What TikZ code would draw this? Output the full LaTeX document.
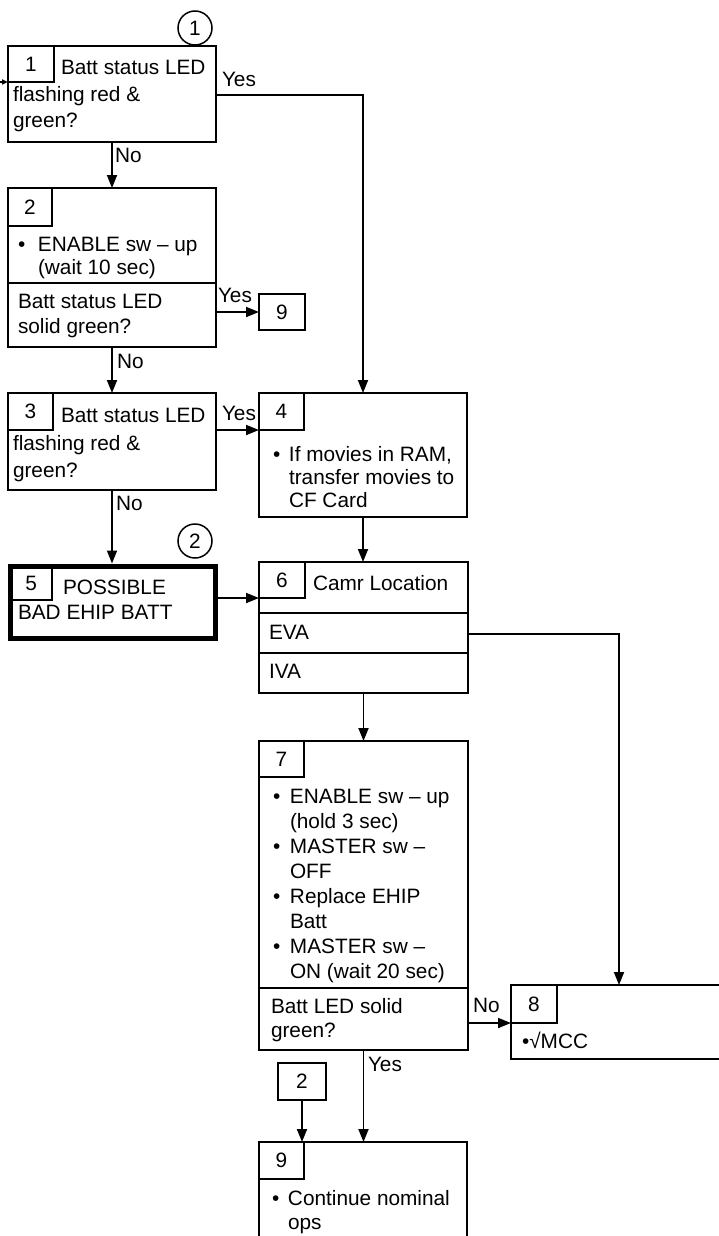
\documentclass[tikz,border=0pt]{standalone}
\usepackage{fontspec}
\setmainfont{Liberation Sans}
\usetikzlibrary{arrows.meta}
\newcommand{\myfs}{\fontsize{20.8}{25}\selectfont}
\newcommand{\bul}[1]{\makebox[#1][l]{\textbullet}}
\begin{document}
\begin{tikzpicture}[x=1pt,y=-1pt,
  box/.style={draw, line width=2.4pt, inner sep=0pt, outer sep=0pt, anchor=north west},
  numbox/.style={draw, line width=1.5pt, inner sep=0pt, outer sep=0pt, anchor=north west, font=\myfs},
  txt/.style={anchor=base west, inner sep=0pt, outer sep=0pt, font=\myfs},
  arr/.style={line width=1.8pt, -{Triangle[length=13pt,width=10pt]}},
  circ/.style={draw, circle, line width=1.5pt, minimum size=34pt, inner sep=0pt, font=\myfs}]
\useasboundingbox (0,0) rectangle (718,1236);

% ---- boxes
\node[box, minimum width=208pt, minimum height=96pt] (b1) at (8,46) {};
\node[box, minimum width=208pt, minimum height=159pt] (b2) at (8,188) {};
\node[box, minimum width=208pt, minimum height=97pt] (b3) at (8,393) {};
\node[box, minimum width=208pt, minimum height=124pt] (b4) at (259,393) {};
\node[box, line width=5pt, outer sep=2.5pt, minimum width=204.5pt, minimum height=72pt] (b5) at (8,563.5) {};
\node[box, minimum width=209pt, minimum height=131pt] (b6) at (259,562) {};
\node[box, minimum width=209pt, minimum height=309pt] (b7) at (259,741) {};
\node[box, minimum width=214pt, minimum height=74pt] (b8) at (511,985) {};
\node[box, minimum width=208pt, minimum height=110pt] (b9) at (259,1142) {};

% ---- dividers
\draw[line width=2.4pt] (b2.west |- 0,283) -- (b2.east |- 0,283);
\draw[line width=2.4pt] (b6.west |- 0,613) -- (b6.east |- 0,613);
\draw[line width=2.4pt] (b6.west |- 0,653) -- (b6.east |- 0,653);
\draw[line width=2.4pt] (b7.west |- 0,988) -- (b7.east |- 0,988);

% ---- number boxes
\node[numbox, minimum width=46pt, minimum height=36pt] (n1) at (b1.north west) {1};
\node[numbox, minimum width=44pt, minimum height=38pt] (n2) at (b2.north west) {2};
\node[numbox, minimum width=45pt, minimum height=37pt] (n3) at (b3.north west) {3};
\node[numbox, minimum width=45pt, minimum height=37pt] (n4) at (b4.north west) {4};
\node[numbox, minimum width=41.5pt, minimum height=34pt] (n5) at (10.5,566) {5};
\node[numbox, minimum width=46pt, minimum height=36pt] (n6) at (b6.north west) {6};
\node[numbox, minimum width=45pt, minimum height=36pt] (n7) at (b7.north west) {7};
\node[numbox, minimum width=46pt, minimum height=38pt] (n8) at (b8.north west) {8};
\node[numbox, minimum width=45pt, minimum height=37pt] (n9) at (b9.north west) {9};

% ---- reference boxes
\node[numbox, line width=1.8pt, minimum width=46pt, minimum height=36pt] (r9) at (259,294) {9};
\node[numbox, line width=1.8pt, minimum width=48pt, minimum height=37pt] (r2) at (278,1063) {2};

% ---- circles
\node[circ] (c1) at (195,28) {1};
\node[circ] (c2) at (195,541) {2};

% ---- texts
\node[txt] (t1a) at (61,75) {Batt status LED};
\node[txt] (t1b) at (13,102) {flashing red \&};
\node[txt] (t1c) at (13,128) {green?};

\node[txt] (t2a) at (18,251) {\bul{20pt}ENABLE sw – up};
\node[txt] (t2b) at (38,274) {(wait 10 sec)};
\node[txt] (t2c) at (18,308) {Batt status LED};
\node[txt] (t2d) at (18,333) {solid green?};

\node[txt] (t3a) at (61,422) {Batt status LED};
\node[txt] (t3b) at (13,450) {flashing red \&};
\node[txt] (t3c) at (13,477) {green?};

\node[txt] (t4a) at (273,461) {\bul{16pt}If movies in RAM,};
\node[txt] (t4b) at (289,484) {transfer movies to};
\node[txt] (t4c) at (289,507) {CF Card};

\node[txt] (t5a) at (63,594) {POSSIBLE};
\node[txt] (t5b) at (18,619) {BAD EHIP BATT};

\node[txt] (t6a) at (313,590) {Camr Location};
\node[txt] (t6b) at (269,639) {EVA};
\node[txt] (t6c) at (269,678) {IVA};

\node[txt] (t7a) at (273,803) {\bul{17pt}ENABLE sw – up};
\node[txt] (t7b) at (290,828) {(hold 3 sec)};
\node[txt] (t7c) at (273,853) {\bul{17pt}MASTER sw –};
\node[txt] (t7d) at (290,878) {OFF};
\node[txt] (t7e) at (273,903) {\bul{17pt}Replace EHIP};
\node[txt] (t7f) at (290,928) {Batt};
\node[txt] (t7g) at (273,953) {\bul{17pt}MASTER sw –};
\node[txt] (t7h) at (290,978) {ON (wait 20 sec)};
\node[txt] (t7i) at (271,1013) {Batt LED solid};
\node[txt] (t7j) at (271,1037) {green?};

\node[txt] (t8a) at (522,1048) {\textbullet√MCC};

\node[txt] (t9a) at (272,1205) {\bul{16pt}Continue nominal};
\node[txt] (t9b) at (288,1229) {ops};

% ---- connector labels
\node[txt] (y1) at (222,87) {Yes};
\node[txt] (no1) at (115,162) {No};
\node[txt] (y2) at (218,302) {Yes};
\node[txt] (no2) at (117,368) {No};
\node[txt] (y3) at (222,420) {Yes};
\node[txt] (no3) at (116,510) {No};
\node[txt] (no7) at (473,1012) {No};
\node[txt] (y7) at (368,1071) {Yes};

% ---- connectors
\coordinate (in) at (0,82);
\draw[line width=1.5pt, -{Triangle[length=6pt,width=5pt]}] (in) -- (b1.west |- in);
\draw[arr] (b1.south) -- (b2.north);
\draw[arr] (b1.east |- 0,95) -| (b4.north);
\draw[arr] (b2.east |- r9.west) -- (r9.west);
\draw[arr] (b2.south) -- (b3.north);
\draw[arr] (b3.east |- 0,430) -- (b4.west |- 0,430);
\draw[arr] (b3.south) -- (b3.south |- b5.north);
\draw[arr] (b4.south) -- (b4.south |- b6.north);
\draw[arr] (b5.east |- 0,598) -- (b6.west |- 0,598);
\coordinate (evax) at (619,634);
\draw[arr] (b6.east |- evax) -- (evax) -- (evax |- b8.north);
\draw[arr] (b6.south) -- (b7.north);
\draw[arr] (b7.east |- 0,1023) -- (b8.west |- 0,1023);
\draw[arr] (b7.south) -- (b7.south |- b9.north);
\draw[arr] (r2.south) -- (r2.south |- b9.north);
\end{tikzpicture}
\end{document}
